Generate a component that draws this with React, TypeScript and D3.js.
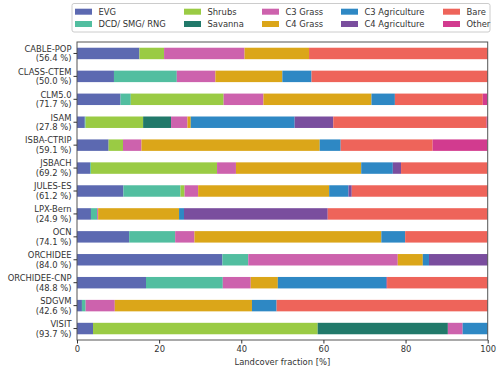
import React, { useEffect, useRef } from 'react';
import * as d3 from 'd3';

// models and share of land covered (in %)
const models = ['CABLE-POP', 'CLASS-CTEM', 'CLM5.0', 'ISAM', 'ISBA-CTRIP', 'JSBACH', 'JULES-ES',
  'LPX-Bern', 'OCN', 'ORCHIDEE', 'ORCHIDEE-CNP', 'SDGVM', 'VISIT'];
const coverage = [56.4, 50.0, 71.7, 27.8, 59.1, 69.2, 61.2, 24.9, 74.1, 84.0, 48.8, 42.6, 93.7];

// landcover classes, values in model order
const evg = [15.2, 9.0, 10.6, 1.9, 7.7, 3.2, 11.3, 3.4, 12.7, 35.4, 16.8, 1.2, 3.9];
const dcd = [0, 15.3, 2.5, 0.2, 0, 0.2, 13.9, 1.5, 11.2, 6.3, 18.7, 0.9, 0];
const shrubs = [6.0, 0, 22.6, 14.0, 3.5, 30.7, 1.0, 0, 0, 0, 0, 0, 54.7];
const savanna = [0, 0, 0, 6.8, 0, 0, 0, 0, 0, 0, 0, 0, 31.7];
const c3grass = [19.6, 9.4, 9.7, 4.0, 4.5, 4.6, 3.3, 0.25, 4.7, 36.4, 6.8, 7.1, 3.6];
const c4grass = [15.7, 16.3, 26.3, 0.8, 43.4, 30.5, 31.9, 19.7, 45.5, 6.1, 6.6, 33.4, 0];
const c3agri = [0, 7.1, 5.7, 25.3, 5.1, 7.7, 4.7, 1.2, 5.8, 1.5, 26.4, 6.0, 6.2];
const c4agri = [0, 0, 0, 9.4, 0, 2.0, 0.8, 35.0, 0, 14.3, 0.2, 0, 0];
const bare = [43.5, 42.9, 21.4, 37.3, 22.4, 21.0, 33.1, 38.9, 20.0, 0, 24.5, 51.4, 0];
const other = [0, 0, 1.1, 0.3, 13.3, 0, 0, 0, 0, 0, 0, 0, 0];

const classNames = ['EVG', 'DCD/ SMG/ RNG', 'Shrubs', 'Savanna', 'C3 Grass', 'C4 Grass',
  'C3 Agriculture', 'C4 Agriculture', 'Bare', 'Other'];
const classValues = [evg, dcd, shrubs, savanna, c3grass, c4grass, c3agri, c4agri, bare, other];
const colors = ['#5c69b1', '#52bea0', '#9acb44', '#21796a', '#cd62ad', '#dba619',
  '#2e88c4', '#7a4e9e', '#ee645a', '#d23b8f'];

const xTicks = [0, 20, 40, 60, 80, 100];

const FONT = 'DejaVu Sans, sans-serif';

export default function App() {
  const ref = useRef<SVGSVGElement>(null);

  useEffect(() => {
    const svg = d3.select(ref.current);
    svg.selectAll('*').remove();

    const left = 77, right = 487.7, top = 42, bottom = 340;

    const rows = models.map((m, i) => {
      const r: any = { model: m };
      classNames.forEach((c, j) => { r[c] = classValues[j][i]; });
      return r;
    });

    const series = d3.stack().keys(classNames)(rows);

    const x = d3.scaleLinear().domain([0, 100]).range([left, right]);
    const y = d3.scaleBand().domain(models).range([top, bottom])
      .paddingInner(0.5).paddingOuter(0.25);
    const color = d3.scaleOrdinal<string>().domain(classNames).range(colors);

    // bars
    svg.append('g')
      .selectAll('g')
      .data(series)
      .enter()
      .append('g')
      .attr('fill', (d) => color(d.key))
      .selectAll('rect')
      .data((d) => d)
      .enter()
      .append('rect')
      .attr('x', (d) => x(d[0]))
      .attr('y', (d: any) => y(d.data.model) as number)
      .attr('width', (d) => Math.max(0, x(Math.min(100, d[1])) - x(d[0])))
      .attr('height', y.bandwidth());

    // frame
    svg.append('rect')
      .attr('x', left).attr('y', top)
      .attr('width', right - left).attr('height', bottom - top)
      .attr('fill', 'none').attr('stroke', '#555').attr('stroke-width', 1);

    // x axis
    const xAxis = svg.append('g')
      .attr('transform', `translate(0,${bottom})`)
      .call(d3.axisBottom(x).tickValues(xTicks).tickSize(3.5).tickPadding(3).tickFormat(d3.format('d')));
    xAxis.select('.domain').remove();
    xAxis.selectAll('line').attr('stroke', '#333');
    xAxis.selectAll('text').attr('font-family', FONT).attr('font-size', 8.4).attr('fill', '#333');

    svg.append('text')
      .attr('x', (left + right) / 2).attr('y', 365)
      .attr('text-anchor', 'middle')
      .attr('font-family', FONT).attr('font-size', 8.4).attr('fill', '#333')
      .text('Landcover fraction [%]');

    // y axis (two-line labels)
    const yAxis = svg.append('g');
    models.forEach((m, i) => {
      const cy = (y(m) as number) + y.bandwidth() / 2;
      yAxis.append('line')
        .attr('x1', left - 3.5).attr('x2', left)
        .attr('y1', cy).attr('y2', cy)
        .attr('stroke', '#333');
      const t = yAxis.append('text')
        .attr('x', left - 5.5).attr('y', cy)
        .attr('text-anchor', 'end')
        .attr('font-family', FONT).attr('font-size', 8.4).attr('fill', '#333');
      t.append('tspan').attr('x', left - 5.5).attr('dy', '-0.2em').text(m);
      t.append('tspan').attr('x', left - 5.5).attr('dy', '1.15em').text(`(${coverage[i].toFixed(1)} %)`);
    });

    // legend
    const lg = svg.append('g');
    lg.append('rect')
      .attr('x', 72).attr('y', 3.5).attr('width', 418).attr('height', 28.5)
      .attr('rx', 2).attr('fill', 'white').attr('stroke', '#ccc');
    const colX = [75, 184, 262, 341, 443];
    classNames.forEach((c, i) => {
      const col = Math.floor(i / 2), row = i % 2;
      const cy = 11.7 + row * 12.3;
      lg.append('rect')
        .attr('x', colX[col]).attr('y', cy - 3)
        .attr('width', 17).attr('height', 6)
        .attr('fill', color(c));
      lg.append('text')
        .attr('x', colX[col] + 23.5).attr('y', cy)
        .attr('dy', '0.35em')
        .attr('font-family', FONT).attr('font-size', 8.4).attr('fill', '#333')
        .text(c);
    });
  }, []);

  return (
    <svg ref={ref} width={500} height={370}
      style={{ position: 'absolute', left: 0, top: 0, background: 'white' }} />
  );
}
